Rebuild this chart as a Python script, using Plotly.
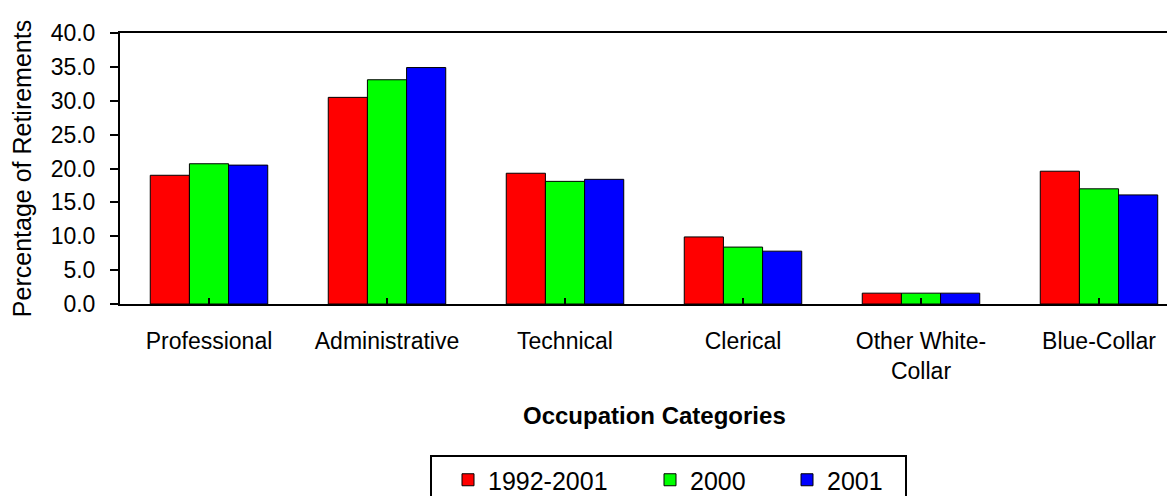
import plotly.graph_objects as go

categories = ["Professional", "Administrative", "Technical", "Clerical",
              "Other White-<br>Collar", "Blue-Collar"]
series_names = ["1992-2001", "2000", "2001"]
vals_1992_2001 = [19.0, 30.5, 19.3, 9.9, 1.6, 19.6]
vals_2000 = [20.7, 33.1, 18.1, 8.4, 1.6, 17.0]
vals_2001 = [20.5, 34.9, 18.4, 7.8, 1.6, 16.1]
y_ticks = [0, 5, 10, 15, 20, 25, 30, 35, 40]
boundary_ticks = [0.5, 1.5, 2.5, 3.5, 4.5]

colors = ["#FF0000", "#00FF00", "#0000FF"]
legend_widths = [141, 76, 73]
FONT = "Liberation Sans, Arial, sans-serif"

# page body has an 8px margin: figure coords = screen coords - 8
W, H = 1167, 488
PL, PT, PB = 112, 25, 296
PH = PB - PT

fig = go.Figure()
for name, vals, col, lw in zip(series_names, [vals_1992_2001, vals_2000, vals_2001], colors, legend_widths):
    fig.add_trace(go.Bar(
        x=categories, y=vals, name=name,
        marker=dict(color=col, line=dict(color="black", width=1)),
        legendwidth=lw,
    ))

XR = [-0.5, 5.427]
PW = W - PL
fig.update_layout(
    width=W, height=H,
    margin=dict(l=PL, r=0, t=PT, b=H - PB, autoexpand=False),
    paper_bgcolor="white", plot_bgcolor="white",
    font=dict(family=FONT, size=23, color="black"),
    barmode="group", bargap=0.34, bargroupgap=0,
    showlegend=True,
    legend=dict(
        orientation="h", x=(422 - PL) / PW, xanchor="left",
        y=(PB - 447) / PH, yanchor="top",
        bordercolor="black", borderwidth=2, bgcolor="white",
        font=dict(size=25), traceorder="normal", indentation=16,
    ),
    xaxis=dict(
        type="category", categoryorder="array", categoryarray=categories,
        range=XR, showline=True, linecolor="black", linewidth=2, mirror=True,
        ticks="inside", ticklen=6, tickwidth=2, tickcolor="black",
        showgrid=False, zeroline=False, tickfont=dict(size=23),
        ticklabelstandoff=15,
    ),
    xaxis2=dict(
        overlaying="x", anchor="y", side="bottom", type="linear",
        range=XR, showline=False, showgrid=False, zeroline=False,
        tickmode="array", tickvals=boundary_ticks, ticks="inside",
        ticklen=6, tickwidth=2, tickcolor="black", showticklabels=False,
    ),
    yaxis=dict(
        range=[0, 40], tickmode="array", tickvals=y_ticks, tickformat=".1f",
        showline=True, linecolor="black", linewidth=2, mirror=False,
        ticks="outside", ticklen=8, tickwidth=2, tickcolor="black",
        showgrid=False, zeroline=False, tickfont=dict(size=23),
        ticklabelstandoff=10,
        title=dict(text="Percentage of Retirements", font=dict(size=25), standoff=22),
    ),
    annotations=[dict(
        text="<b>Occupation Categories</b>", xref="x", yref="paper",
        x=2.5, y=(PB - 407) / PH, xanchor="center", yanchor="middle",
        showarrow=False, font=dict(size=24),
    )],
)

fig.write_html("out.html")
